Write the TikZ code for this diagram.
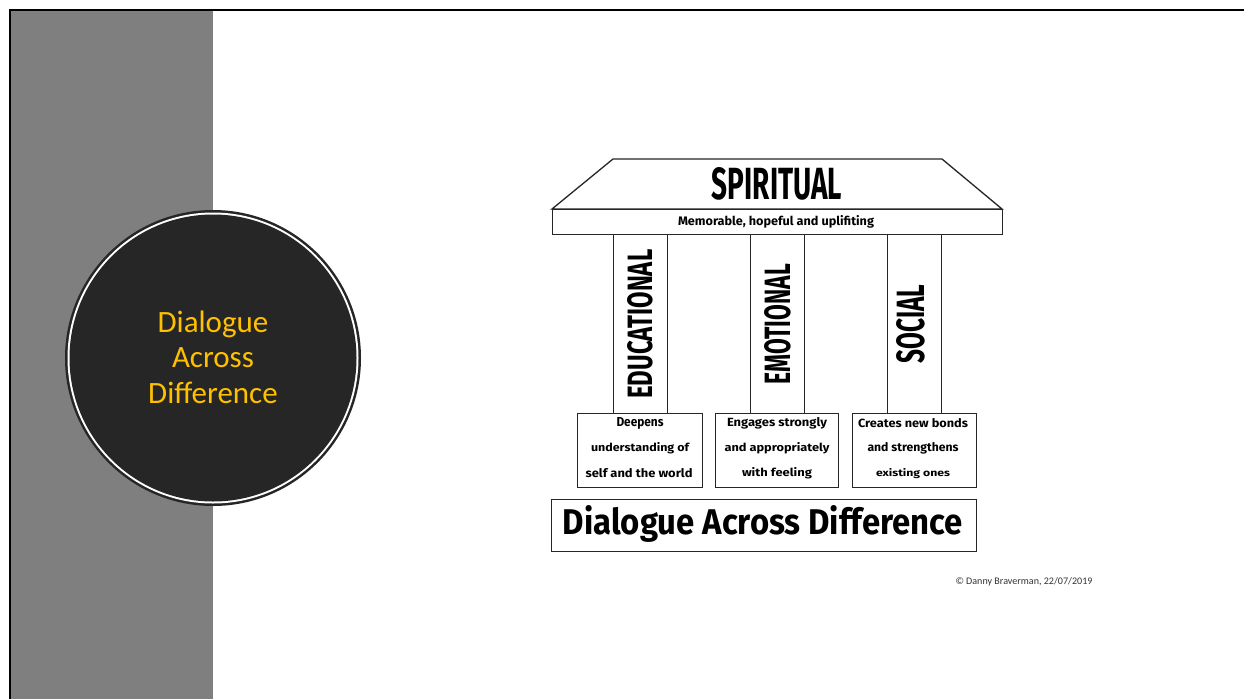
\documentclass[tikz,border=0pt]{standalone}
\usepackage{fontspec}
\usepackage{graphicx}
\setmainfont{Carlito}
\newfontfamily\hand{Fira Sans}
\definecolor{panelgray}{HTML}{7F7F7F}
\definecolor{hubdark}{HTML}{262626}
\definecolor{hubtext}{HTML}{FFC000}
\newcommand{\fitw}[3]{\resizebox{#1pt}{#2pt}{\hand\bfseries #3}}
\tikzset{
  part/.style={draw=black!85, line width=1.3pt, fill=white, inner sep=0pt, anchor=north west},
  pillar/.style={part, minimum width=54pt, minimum height=179pt},
  footbox/.style={part, minimum height=74pt},
  caption/.style={inner sep=0pt, align=center},
  boxline/.style={inner sep=0pt},
}
\begin{document}
\begin{tikzpicture}[x=1pt,y=-1pt]
\useasboundingbox (0,0) rectangle (1244,699);
\fill[white] (0,0) rectangle (1244,699);
% slide background
\fill[panelgray] (11,11) rectangle (213,699);
\draw[line width=2.5pt, black] (10,699) -- (10,10) -- (1244,10);
% hub circle
\fill[hubdark] (213,358) circle[radius=148pt];
\fill[white] (213,358) circle[radius=145.5pt];
\fill[hubdark] (213,358) circle[radius=143.5pt];
\node[caption, text=hubtext, font=\fontsize{31}{35.5}\selectfont] (hub) at (213,357) {Dialogue\\Across\\Difference};
% roof
\coordinate (rtl) at (613,159);
\coordinate (rtr) at (942,159);
\coordinate (rbr) at (1002,209);
\coordinate (rbl) at (552,209);
\draw[line width=1.3pt, draw=black!85, fill=white] (rtl) -- (rtr) -- (rbr) -- (rbl) -- cycle;
\node[caption] (spiritual) at (777,184) {\fitw{130}{32}{SPIRITUAL}};
\node[part, minimum width=450pt, minimum height=25pt] (band) at (552,209) {};
\node[caption] (memo) at (776,221.5) {\fitw{196}{10}{Memorable, hopeful and uplifiting}};
% pillars
\node[pillar] (col1) at (613,234) {};
\node[pillar] (col2) at (750,234) {};
\node[pillar] (col3) at (887,234) {};
\node[caption, rotate=90] (educ) at ([xshift=0pt]col1.center) {\fitw{149}{25}{EDUCATIONAL}};
\node[caption, rotate=90] (emot) at ([yshift=0pt]col2.center) {\fitw{120}{26}{EMOTIONAL}};
\node[caption, rotate=90] (soc) at ([xshift=-4pt]col3.center) {\fitw{79}{28}{SOCIAL}};
% foot boxes
\node[footbox, minimum width=125pt] (box1) at (577,413) {};
\node[footbox, minimum width=123pt] (box2) at (715,413) {};
\node[footbox, minimum width=124pt] (box3) at (852,413) {};
\node[boxline] at (640,423) {\fitw{47}{9}{Deepens}};
\node[boxline] at (640,448.5) {\fitw{98}{9}{understanding of}};
\node[boxline] at (639,473.5) {\fitw{107}{9}{self and the world}};
\node[boxline] at (777,423) {\fitw{100}{9}{Engages strongly}};
\node[boxline] at (777,448.5) {\fitw{105}{9}{and appropriately}};
\node[boxline] at (777,473.5) {\fitw{70}{9}{with feeling}};
\node[boxline] at (913,423) {\fitw{110}{9}{Creates new bonds}};
\node[boxline] at (913,448.5) {\fitw{91}{9}{and strengthens}};
\node[boxline] at (913,473.5) {\fitw{74}{8}{existing ones}};
% base
\node[part, minimum width=425pt, minimum height=52pt] (base) at (551,499) {};
\node[caption] (dad) at (763,524) {\fitw{400}{29}{Dialogue Across Difference}};
% copyright
\node[caption, text=black!80] (copy) at (1024,582) {\resizebox{137pt}{!}{\fontsize{9}{10}\selectfont © Danny Braverman, 22/07/2019}};
\end{tikzpicture}
\end{document}
